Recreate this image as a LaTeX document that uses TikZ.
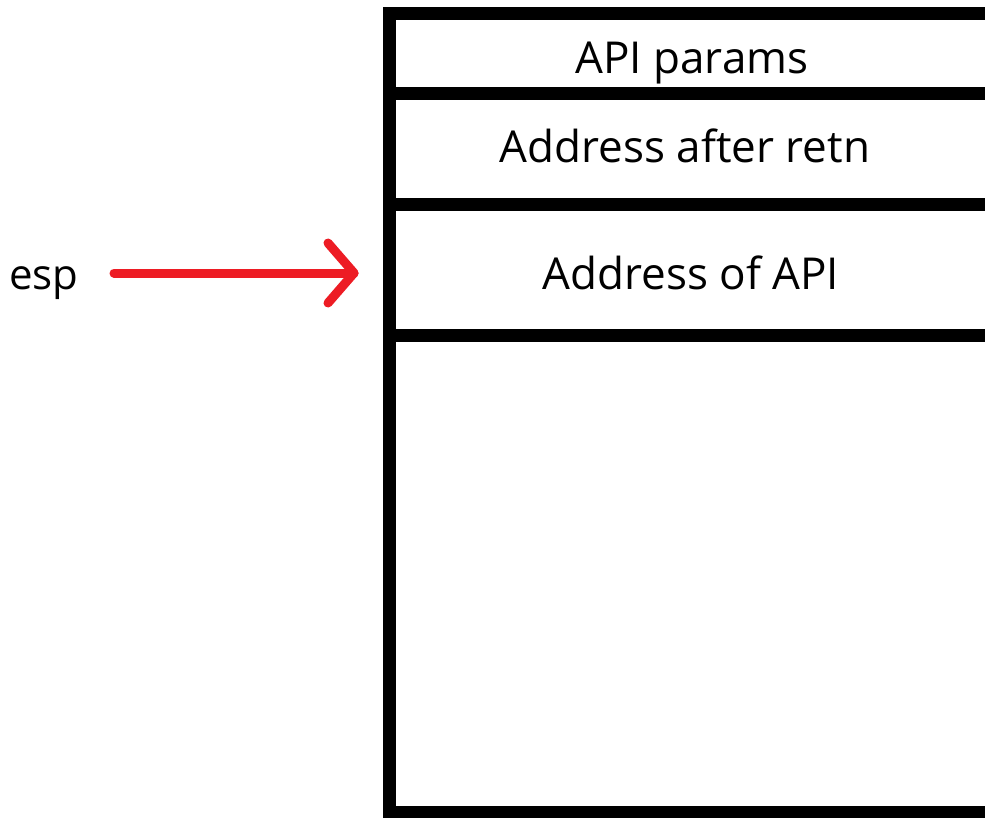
\documentclass[tikz,border=0pt]{standalone}
\usepackage{fontspec}
\setmainfont{Open Sans}
\definecolor{penred}{HTML}{ED1C24}
\begin{document}
\begin{tikzpicture}[x=1pt,y=-1pt,
  wall/.style={line width=13pt, black},
  lbl/.style={font=\fontsize{44}{52}\selectfont, inner sep=0pt, anchor=base},
  pen/.style={line width=9pt, penred, line cap=round, line join=round}]
\useasboundingbox[fill=white] (0,0) rectangle (985,817);
% stack frame
\draw[wall] (389,1000) -- (389,13) -- (1000,13);
\draw[wall] (383,93) -- (1000,93);
\draw[wall] (383,204) -- (1000,204);
\draw[wall] (383,335) -- (1000,335);
\draw[wall] (383,812) -- (1000,812);
% labels
\node[lbl] (params) at (692,73) {API params};
\node[lbl] (retn) at (685,162) {Address after retn};
\node[lbl] (api) at (691,289) {Address of API};
\node[lbl, font=\fontsize{42}{50}\selectfont] (esp) at (44,289) {esp};
% arrow
\coordinate (tail) at (114,273);
\coordinate (tip) at (354,273);
\draw[pen] (tail) -- (tip);
\draw[pen] ([shift={(-26,-30)}]tip) -- (tip) -- ([shift={(-26,30)}]tip);
\end{tikzpicture}
\end{document}
